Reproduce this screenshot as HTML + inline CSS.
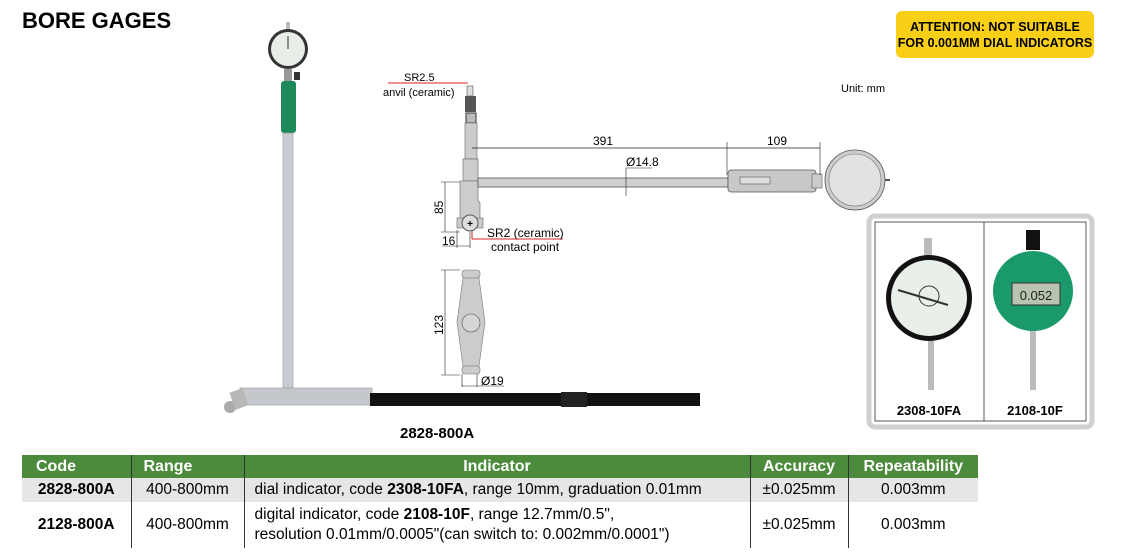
<!DOCTYPE html>
<html><head><meta charset="utf-8"><style>
body{margin:0;width:1142px;height:560px;background:#fff;position:relative;overflow:hidden;font-family:"Liberation Sans",sans-serif;}
.abs{position:absolute;}
table{border-collapse:collapse;table-layout:fixed;width:956px;position:absolute;left:22px;top:455px;font-family:"Liberation Sans",sans-serif;font-size:15.5px;}
td,th{border-left:1px solid #333;padding:0 6px;text-align:center;white-space:nowrap;overflow:hidden;}
td:first-child,th:first-child{border-left:none;}
th{background:#4b8b3b;color:#fff;font-size:16px;height:23px;padding:0 4px;}
</style></head><body>
<div class="abs" style="left:22px;top:8px;font-size:22px;font-weight:bold;">BORE GAGES</div>
<div class="abs" style="left:896px;top:11px;width:198px;height:47px;background:#f9cf17;border-radius:6px;font-size:12.5px;font-weight:bold;text-align:center;line-height:16px;padding-top:8px;box-sizing:border-box;">ATTENTION: NOT SUITABLE<br>FOR 0.001MM DIAL INDICATORS</div>
<svg class="abs" style="left:0;top:0" width="1142" height="450" font-family="Liberation Sans, sans-serif">
<rect x="286" y="22" width="4" height="10" fill="#bbb"/>
<circle cx="288" cy="49" r="20" fill="#333"/><circle cx="288" cy="49" r="17" fill="#e8eee8"/>
<line x1="288" y1="49" x2="288" y2="36" stroke="#333"/>
<rect x="284" y="69" width="8" height="12" fill="#999"/><rect x="294" y="72" width="6" height="8" fill="#333"/>
<rect x="281" y="81" width="15" height="52" rx="3" fill="#1e8a5a"/>
<rect x="283" y="133" width="10" height="255" fill="#c8ccd0" stroke="#999" stroke-width="0.6"/>
<rect x="240" y="388" width="132" height="17" fill="#c4c8cc" stroke="#999" stroke-width="0.6"/>
<rect x="370" y="393" width="330" height="13" fill="#111"/>
<rect x="561" y="392" width="26" height="15" fill="#222"/>
<circle cx="230" cy="407" r="6" fill="#aaa"/><rect x="232" y="390" width="14" height="18" fill="#b8b8b8" transform="rotate(-20 239 399)"/>
<text x="400" y="438" font-size="15" font-weight="bold">2828-800A</text>
<text x="404" y="81" font-size="11">SR2.5</text>
<text x="383" y="96" font-size="11">anvil (ceramic)</text>
<line x1="388" y1="83" x2="468" y2="83" stroke="#d22" stroke-width="1"/>
<rect x="467" y="86" width="6" height="10" fill="#ddd" stroke="#555" stroke-width="0.6"/>
<rect x="465" y="96" width="11" height="16" fill="#555"/>
<rect x="466" y="113" width="10" height="10" fill="#bbb" stroke="#333"/>
<rect x="465" y="123" width="12" height="36" fill="#ccc" stroke="#666" stroke-width="0.6"/>
<rect x="463" y="159" width="15" height="22" fill="#ccc" stroke="#666" stroke-width="0.6"/>
<path d="M460 181 H478 V200 L480 203 V219 H460 Z" fill="#ccc" stroke="#666" stroke-width="0.6"/>
<rect x="457" y="218" width="26" height="10" fill="#ccc" stroke="#666" stroke-width="0.6"/>
<circle cx="470" cy="223" r="8" fill="#ddd" stroke="#555"/>
<text x="470" y="227" font-size="10" text-anchor="middle" font-weight="bold">+</text>
<rect x="478" y="178" width="250" height="9" fill="#d0d0d0" stroke="#555" stroke-width="0.8"/>
<rect x="728" y="170" width="88" height="22" rx="3" fill="#c8c8c8" stroke="#555" stroke-width="0.8"/>
<rect x="740" y="177" width="30" height="7" fill="#ddd" stroke="#555" stroke-width="0.6"/>
<rect x="812" y="174" width="10" height="14" fill="#ccc" stroke="#555" stroke-width="0.6"/>
<circle cx="855" cy="180" r="30" fill="#ccc" stroke="#555" stroke-width="0.8"/><circle cx="855" cy="180" r="26" fill="#e2e2e2" stroke="#777" stroke-width="0.6"/>
<line x1="885" y1="180" x2="890" y2="180" stroke="#555" stroke-width="2"/>
<line x1="472" y1="148" x2="820" y2="148" stroke="#222" stroke-width="0.8"/>
<line x1="727" y1="142" x2="727" y2="175" stroke="#222" stroke-width="0.6"/>
<line x1="820" y1="142" x2="820" y2="175" stroke="#222" stroke-width="0.6"/>
<text x="593" y="145" font-size="12">391</text>
<text x="767" y="145" font-size="12">109</text>
<text x="626" y="166" font-size="12">Ø14.8</text>
<line x1="626" y1="168" x2="652" y2="168" stroke="#222" stroke-width="0.6"/>
<line x1="626" y1="168" x2="626" y2="196" stroke="#222" stroke-width="0.6"/>
<line x1="445" y1="182" x2="445" y2="232" stroke="#222" stroke-width="0.6"/>
<line x1="441" y1="182" x2="460" y2="182" stroke="#222" stroke-width="0.6"/>
<line x1="441" y1="232" x2="460" y2="232" stroke="#222" stroke-width="0.6"/>
<text x="0" y="0" font-size="12" transform="translate(443 214) rotate(-90)">85</text>
<line x1="457" y1="230" x2="457" y2="248" stroke="#222" stroke-width="0.6"/>
<line x1="470" y1="232" x2="470" y2="248" stroke="#222" stroke-width="0.6"/>
<line x1="442" y1="246" x2="470" y2="246" stroke="#222" stroke-width="0.6"/>
<text x="442" y="245" font-size="12">16</text>
<line x1="472" y1="239" x2="563" y2="239" stroke="#d22"/>
<line x1="472" y1="231" x2="472" y2="239" stroke="#d22"/>
<text x="487" y="237" font-size="12">SR2 (ceramic)</text>
<text x="491" y="251" font-size="12">contact point</text>
<rect x="462" y="270" width="18" height="8" rx="3" fill="#ccc" stroke="#777" stroke-width="0.6"/>
<path d="M463 278 H479 L485 322 L479 366 H463 L457 322 Z" fill="#ccc" stroke="#777" stroke-width="0.6"/>
<rect x="462" y="366" width="18" height="8" rx="3" fill="#ccc" stroke="#777" stroke-width="0.6"/>
<circle cx="471" cy="323" r="9" fill="#d6d6d6" stroke="#555" stroke-width="0.6"/>
<line x1="445" y1="270" x2="445" y2="375" stroke="#222" stroke-width="0.6"/>
<line x1="441" y1="270" x2="460" y2="270" stroke="#222" stroke-width="0.6"/>
<line x1="441" y1="375" x2="460" y2="375" stroke="#222" stroke-width="0.6"/>
<text x="0" y="0" font-size="12" transform="translate(443 335) rotate(-90)">123</text>
<line x1="462" y1="374" x2="462" y2="387" stroke="#222" stroke-width="0.6"/>
<line x1="477" y1="374" x2="477" y2="387" stroke="#222" stroke-width="0.6"/>
<line x1="462" y1="386" x2="504" y2="386" stroke="#222" stroke-width="0.6"/>
<text x="481" y="385" font-size="12">Ø19</text>
<text x="841" y="92" font-size="11">Unit: mm</text>
<rect x="869" y="216" width="223" height="211" rx="6" fill="#fff" stroke="#d0d0d0" stroke-width="5"/>
<rect x="875" y="222" width="211" height="199" fill="#fff" stroke="#333" stroke-width="0.8"/>
<line x1="984" y1="222" x2="984" y2="421" stroke="#333" stroke-width="0.8"/>
<rect x="924" y="238" width="8" height="18" fill="#bbb"/>
<rect x="928" y="340" width="6" height="50" fill="#bbb"/>
<circle cx="929" cy="298" r="43" fill="#111"/><circle cx="929" cy="298" r="38" fill="#e9efe9"/>
<circle cx="929" cy="296" r="10" fill="none" stroke="#333"/>
<line x1="898" y1="290" x2="948" y2="305" stroke="#333" stroke-width="2"/>
<rect x="1026" y="230" width="14" height="20" fill="#111"/>
<rect x="1030" y="330" width="6" height="60" fill="#bbb"/>
<circle cx="1033" cy="291" r="40" fill="#1a9a6a"/>
<rect x="1012" y="283" width="48" height="22" fill="#b8c4b0" stroke="#333"/>
<text x="1036" y="300" font-size="13" text-anchor="middle" fill="#222">0.052</text>
<text x="929" y="415" font-size="13" font-weight="bold" text-anchor="middle">2308-10FA</text>
<text x="1035" y="415" font-size="13" font-weight="bold" text-anchor="middle">2108-10F</text>
</svg>
<table>
<colgroup><col style="width:109px"><col style="width:113px"><col style="width:506px"><col style="width:98px"><col style="width:130px"></colgroup>
<tr><th style="text-align:left;padding-left:14px">Code</th><th style="text-align:left;padding-left:12px">Range</th><th>Indicator</th><th>Accuracy</th><th>Repeatability</th></tr>
<tr style="background:#e6e6e6;height:24px"><td><b>2828-800A</b></td><td>400-800mm</td><td style="text-align:left;padding-left:10px">dial indicator, code <b>2308-10FA</b>, range 10mm, graduation 0.01mm</td><td>±0.025mm</td><td>0.003mm</td></tr>
<tr style="height:46px;background:#fff"><td><b>2128-800A</b></td><td>400-800mm</td><td style="text-align:left;padding-left:10px;line-height:20px">digital indicator, code <b>2108-10F</b>, range 12.7mm/0.5",<br>resolution 0.01mm/0.0005"(can switch to: 0.002mm/0.0001")</td><td>±0.025mm</td><td>0.003mm</td></tr>
</table>
</body></html>
